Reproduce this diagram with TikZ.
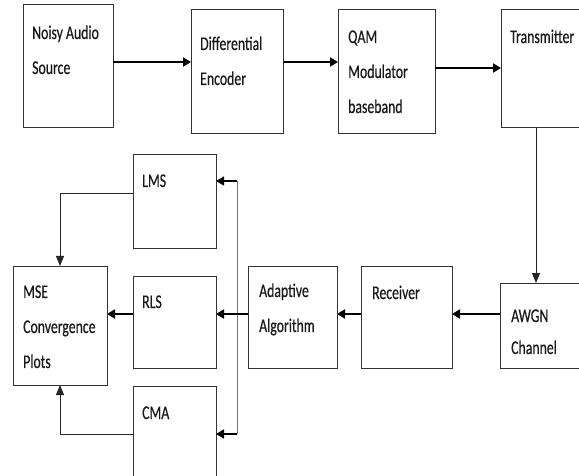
\documentclass[tikz,border=0pt]{standalone}
\usepackage{fontspec}
\setmainfont{Carlito}[FakeStretch=0.71,FakeBold=0.4]
\usetikzlibrary{arrows.meta,calc}
\newcommand\tlines[2][35pt]{\vtop{\baselineskip=#1\lineskiplimit=-20pt\halign{##\hfil\cr#2\crcr}}}
\begin{document}
\begin{tikzpicture}[x=1pt,y=1pt,
  box/.style={draw=black!80,line width=0.9pt,inner sep=0pt,outer sep=0pt},
  txt/.style={anchor=base west,inner sep=0pt,text=black!90,font=\fontsize{19.4}{35}\selectfont},
  bigarr/.style={draw=black,line width=1.9pt,-{Triangle[length=8pt,width=9pt]}},
  thinarr/.style={draw=black!85,line width=1pt,-{Triangle[length=10pt,width=8pt]}},
  thinline/.style={draw=black!55,line width=1pt}]
\useasboundingbox (0,0) rectangle (579,-476);
\clip (0,0) rectangle (579,-476);
\fill[white] (0,0) rectangle (579,-476);
% boxes
\node[box,minimum width=90pt,minimum height=123pt] (noisy) at (68,-65.5) {};
\node[box,minimum width=92pt,minimum height=124pt] (diff) at (237,-71) {};
\node[box,minimum width=97pt,minimum height=124pt] (qam) at (386.5,-71) {};
\node[box,minimum width=119pt,minimum height=118pt] (tx) at (560.5,-68) {};
\node[box,minimum width=120pt,minimum height=85pt] (awgn) at (560,-325.5) {};
\node[box,minimum width=91pt,minimum height=102pt] (rx) at (406.5,-317) {};
\node[box,minimum width=89pt,minimum height=102pt] (adapt) at (292.5,-317) {};
\node[box,minimum width=83pt,minimum height=92pt] (rls) at (174.5,-322) {};
\node[box,minimum width=94pt,minimum height=119pt] (mse) at (60,-325.5) {};
\node[box,minimum width=83pt,minimum height=94pt] (lms) at (174.5,-201) {};
\node[box,minimum width=83pt,minimum height=114pt] (cma) at (174.5,-443) {};
% texts
\node[txt] (tnoisy) at ($(noisy.north west)+(9,-35)$) {\tlines{Noisy Audio\cr Source}};
\node[txt] (tdiff) at ($(diff.north west)+(9,-41)$) {\tlines{Differential\cr Encoder}};
\node[txt] (tqam) at ($(qam.north west)+(10,-34)$) {\tlines{QAM\cr Modulator\cr baseband}};
\node[txt] (ttx) at ($(tx.north west)+(9,-34)$) {Transmitter};
\node[txt] (tawgn) at ($(awgn.north west)+(11,-39)$) {\tlines[32pt]{AWGN\cr Channel}};
\node[txt] (trx) at ($(rx.north west)+(11,-33)$) {Receiver};
\node[txt] (tadapt) at ($(adapt.north west)+(11,-31)$) {\tlines{Adaptive\cr Algorithm}};
\node[txt] (trls) at ($(rls.north west)+(9,-32)$) {RLS};
\node[txt] (tmse) at ($(mse.north west)+(10,-32)$) {\tlines{MSE\cr Convergence\cr Plots}};
\node[txt] (tlms) at ($(lms.north west)+(9,-33)$) {LMS};
\node[txt] (tcma) at ($(cma.north west)+(9,-33)$) {CMA};
% connectors
\draw[bigarr] (noisy.east |- 0,-62) -- (diff.west |- 0,-62);
\draw[bigarr] (diff.east |- 0,-62) -- (qam.west |- 0,-62);
\draw[bigarr] (qam.east |- 0,-68) -- (tx.west |- 0,-68);
\draw[thinarr] (tx.south -| 536,0) -- (awgn.north -| 536,0);
\draw[bigarr] (awgn.west |- 0,-314) -- (rx.east |- 0,-314);
\draw[bigarr] (rx.west |- 0,-314) -- (adapt.east |- 0,-314);
\coordinate (br1) at (237,-181);
\coordinate (br2) at (237,-434);
\draw[thinline] (br1) -- (br2);
\draw[bigarr] (adapt.west |- 0,-314) -- (rls.east |- 0,-314);
\draw[bigarr] (rls.west |- 0,-314) -- (mse.east |- 0,-314);
\draw[thinarr] (lms.west |- 0,-194) -| (mse.north);
\draw[thinarr] (cma.west |- 0,-434) -| (mse.south);
\draw[bigarr,line width=1.5pt] (br1) -- (lms.east |- br1);
\draw[bigarr,line width=1.5pt] (br2) -- (cma.east |- br2);
\end{tikzpicture}
\end{document}
